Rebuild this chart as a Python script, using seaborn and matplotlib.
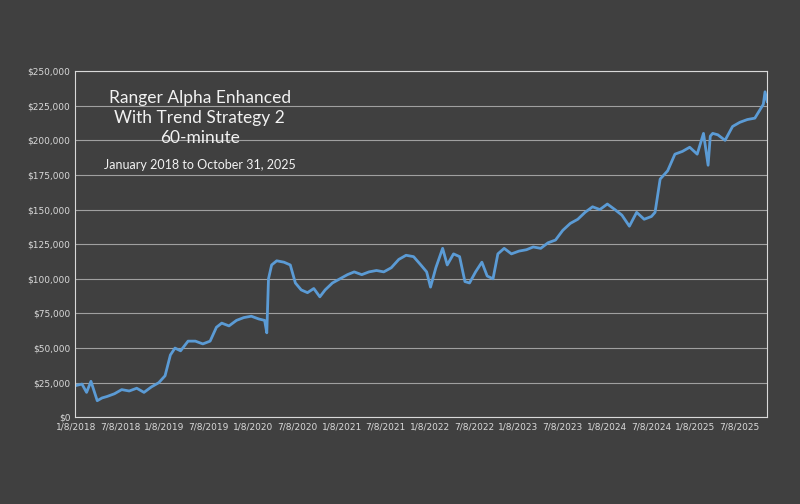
import pandas as pd
import matplotlib.pyplot as plt
from matplotlib.ticker import FuncFormatter
import seaborn as sns

# --- data (approximate) ---
fechas = ["2018-01-08", "2018-02-01", "2018-02-20", "2018-03-10", "2018-04-05", "2018-04-25",
          "2018-05-15", "2018-06-15", "2018-07-15", "2018-08-15", "2018-09-15", "2018-10-15",
          "2018-11-15", "2018-12-15", "2019-01-10", "2019-02-01", "2019-02-20", "2019-03-15",
          "2019-04-15", "2019-05-15", "2019-06-15", "2019-07-15", "2019-08-10", "2019-09-01",
          "2019-10-01", "2019-11-01", "2019-12-01", "2020-01-01", "2020-02-01", "2020-02-25",
          "2020-03-05", "2020-03-12", "2020-03-25", "2020-04-15", "2020-05-15", "2020-06-10",
          "2020-07-01", "2020-07-25", "2020-08-20", "2020-09-15", "2020-10-10", "2020-11-01",
          "2020-12-01", "2021-01-01", "2021-02-01", "2021-03-01", "2021-04-01", "2021-05-01",
          "2021-06-01", "2021-07-01", "2021-08-01", "2021-09-01", "2021-10-01", "2021-11-01",
          "2021-12-01", "2021-12-25", "2022-01-10", "2022-02-01", "2022-03-01", "2022-03-20",
          "2022-04-15", "2022-05-10", "2022-06-01", "2022-06-20", "2022-07-15", "2022-08-10",
          "2022-09-01", "2022-09-25", "2022-10-15", "2022-11-10", "2022-12-10", "2023-01-10",
          "2023-02-10", "2023-03-10", "2023-04-10", "2023-05-10", "2023-06-10", "2023-07-10",
          "2023-08-10", "2023-09-10", "2023-10-10", "2023-11-10", "2023-12-10", "2024-01-10",
          "2024-02-10", "2024-03-10", "2024-04-10", "2024-05-10", "2024-06-10", "2024-07-10",
          "2024-07-25", "2024-08-15", "2024-09-15", "2024-10-15", "2024-11-15", "2024-12-15",
          "2025-01-15", "2025-02-10", "2025-03-01", "2025-03-10", "2025-03-20", "2025-04-10",
          "2025-05-10", "2025-06-10", "2025-07-10", "2025-08-10", "2025-09-10", "2025-10-01",
          "2025-10-15", "2025-10-22", "2025-10-31"]
equity = [23000, 24000, 18000, 26000, 12000, 14000,
          15000, 17000, 20000, 19000, 21000, 18000,
          22000, 25000, 30000, 45000, 50000, 48000,
          55000, 55000, 53000, 55000, 65000, 68000,
          66000, 70000, 72000, 73000, 71000, 70000,
          61000, 100000, 110000, 113000, 112000, 110000,
          97000, 92000, 90000, 93000, 87000, 92000,
          97000, 100000, 103000, 105000, 103000, 105000,
          106000, 105000, 108000, 114000, 117000, 116000,
          110000, 105000, 94000, 108000, 122000, 110000,
          118000, 116000, 98000, 97000, 105000, 112000,
          102000, 100000, 118000, 122000, 118000, 120000,
          121000, 123000, 122000, 126000, 128000, 135000,
          140000, 143000, 148000, 152000, 150000, 154000,
          150000, 146000, 138000, 148000, 143000, 145000,
          148000, 172000, 178000, 190000, 192000, 195000,
          190000, 205000, 182000, 203000, 205000, 204000,
          200000, 210000, 213000, 215000, 216000, 222000,
          226000, 235000, 228000]
tick_labels = ["1/8/2018", "7/8/2018", "1/8/2019", "7/8/2019", "1/8/2020", "7/8/2020",
               "1/8/2021", "7/8/2021", "1/8/2022", "7/8/2022", "1/8/2023", "7/8/2023",
               "1/8/2024", "7/8/2024", "1/8/2025", "7/8/2025"]

df = pd.DataFrame({"Fecha": pd.to_datetime(fechas), "Equity": equity})
bg = "#404040"

fig = plt.figure(figsize=(8, 5.04), dpi=100, facecolor=bg)
ax = fig.add_axes([0.094, 0.172, 0.865, 0.687])
ax.set_facecolor(bg)

sns.lineplot(data=df, x="Fecha", y="Equity", color="#5b9bd5", linewidth=2, ax=ax)

ax.set_ylim(0, 250000)
ax.set_yticks(range(0, 250001, 25000))
ax.yaxis.set_major_formatter(FuncFormatter(lambda v, p: f"${v:,.0f}"))
ax.set_xlim(pd.Timestamp("2018-01-04"), pd.Timestamp("2025-10-31"))
ax.set_xticks(pd.to_datetime([pd.Timestamp(t) for t in tick_labels]))
ax.set_xticklabels(tick_labels)
ax.grid(axis="y", color="#a0a0a0", linewidth=0.8)
ax.set_axisbelow(True)
ax.tick_params(colors="#d9d9d9", labelsize=6.5, length=0)
for s in ax.spines.values():
    s.set_color("#d9d9d9")
ax.set_xlabel("")
ax.set_ylabel("")

ax.text(0.18, 0.945, "Ranger Alpha Enhanced\nWith Trend Strategy 2\n60-minute",
        transform=ax.transAxes, ha="center", va="top", color="#f2f2f2",
        fontsize=12.5, linespacing=1.32, family="Lato")
ax.text(0.18, 0.745, "January 2018 to October 31, 2025", transform=ax.transAxes,
        ha="center", va="top", color="#f2f2f2", fontsize=9, family="Lato")

fig.savefig("out.png", dpi=100, facecolor=bg)
